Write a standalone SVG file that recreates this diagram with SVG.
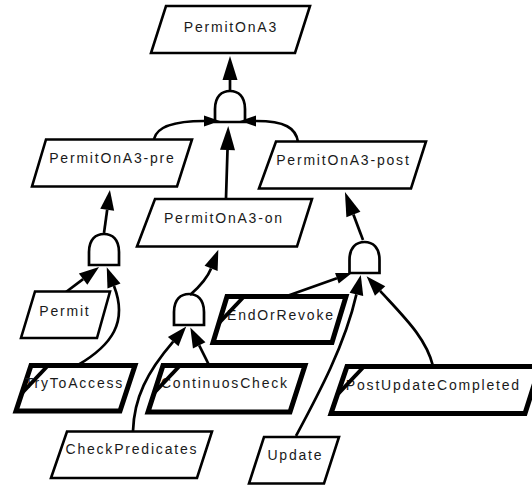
<svg xmlns="http://www.w3.org/2000/svg" width="532" height="486" viewBox="0 0 532 486">
<style>
.n{fill:#fff;stroke:#000;stroke-width:2.6;stroke-linejoin:miter}
.t{fill:#fff;stroke:#000;stroke-width:5;stroke-linejoin:miter}
.d{stroke:#000;stroke-width:4;fill:none}
.g{fill:#fff;stroke:#000;stroke-width:2.7}
.e{fill:none;stroke:#000;stroke-width:2.7}
.m{marker-end:url(#a)}
.b{marker-end:url(#ab)}
.s{marker-end:url(#as)}
text{font-family:"Liberation Sans",Arial,sans-serif;font-size:14px;letter-spacing:1.8px;text-anchor:middle;fill:#1a1a1a}
</style>
<defs>
<marker id="a" markerUnits="userSpaceOnUse" markerWidth="20" markerHeight="14" refX="0" refY="7" orient="auto" overflow="visible"><path d="M0,0 L20,7 L0,14 Z" fill="#000"/></marker>
<marker id="ab" markerUnits="userSpaceOnUse" markerWidth="24" markerHeight="15" refX="0" refY="7.5" orient="auto" overflow="visible"><path d="M0,0 L24,7.5 L0,15 Z" fill="#000"/></marker>
<marker id="as" markerUnits="userSpaceOnUse" markerWidth="16" markerHeight="11" refX="0" refY="5.5" orient="auto" overflow="visible"><path d="M0,0 L16,5.5 L0,11 Z" fill="#000"/></marker>
<path id="gate" d="M-15,0 L-15,-13 C-15,-26 -8,-31 0,-31 C8,-31 15,-26 15,-13 L15,0 Z"/>
</defs>
<g id="gates">
<use id="gate-top" href="#gate" class="g" transform="translate(230,122)"/>
<use id="gate-pre" href="#gate" class="g" transform="translate(104,265)"/>
<use id="gate-on" href="#gate" class="g" transform="translate(189,325)"/>
<use id="gate-post" href="#gate" class="g" transform="translate(364.5,273)"/>
</g>
<g id="connectors">
<path class="e b" d="M230,91 L230,80"/>
<path class="e s" d="M154,139 C157,126 175,121 204,121"/>
<path class="e s" d="M298,142 C296,128 285,121 256,121"/>
<path class="e b" d="M226,198 L227.5,150"/>
<path class="e m" d="M104,233 L107.2,209.8"/>
<path class="e m" d="M66,292 L83.1,279.1"/>
<path class="e m" d="M78,365 C112,345 128,322 114,286"/>
<path class="e m" d="M190,295 C199,287 207,279 211.1,268.4"/>
<path class="e m" d="M133,431 C134,398 147,372 173.2,341.6"/>
<path class="e m" d="M209,365 L199.2,345.3"/>
<path class="e b" d="M363,240 L353.4,214.5"/>
<path class="e s" d="M287,296 L336.9,278.3"/>
<path class="e m" d="M296,436 C318,395 345,345 356.4,294.4"/>
<path class="e m" d="M433,366 C426,338 405,318 380.1,290.9"/>
</g>
<g id="PermitOnA3">
<polygon class="n" points="166,6 310,6 295,53 151,53"/>
<text x="230.9" y="31.5">PermitOnA3</text>
</g>
<g id="PermitOnA3-pre">
<polygon class="n" points="46,139.5 192,139.5 177,186.5 32,186.5"/>
<text x="112.4" y="163">PermitOnA3-pre</text>
</g>
<g id="PermitOnA3-on">
<polygon class="n" points="155,199 312,199 297,246.5 137,246.5"/>
<text x="223.9" y="223">PermitOnA3-on</text>
</g>
<g id="PermitOnA3-post">
<polygon class="n" points="276,141.5 426,141.5 411,188.5 259,188.5"/>
<text x="343.4" y="165">PermitOnA3-post</text>
</g>
<g id="Permit">
<polygon class="n" points="35,291.5 110,291.5 97,338 21,338"/>
<text x="64.9" y="316">Permit</text>
</g>
<g id="TryToAccess">
<polygon class="t" points="31,365.5 135,365.5 120,411 16,411"/>
<text x="74.4" y="388">TryToAccess</text>
<line class="d" x1="48" y1="365.5" x2="22.5" y2="392.5"/>
</g>
<g id="ContinuosCheck">
<polygon class="t" points="163,365.5 305,365.5 290,412 148,412"/>
<text x="224.9" y="388">ContinuosCheck</text>
<line class="d" x1="180" y1="365.5" x2="154.5" y2="392.5"/>
</g>
<g id="EndOrRevoke">
<polygon class="t" points="227,296.5 346,296.5 332,342.5 213,342.5"/>
<text x="280.9" y="320">EndOrRevoke</text>
<line class="d" x1="244" y1="296.5" x2="218.5" y2="323.5"/>
</g>
<g id="PostUpdateCompleted">
<polygon class="t" points="347,366.5 540,366.5 525,413.5 331,413.5"/>
<text x="433.4" y="390">PostUpdateCompleted</text>
<line class="d" x1="364" y1="366.5" x2="338.5" y2="393.5"/>
</g>
<g id="CheckPredicates">
<polygon class="n" points="67,431.5 212,431.5 197,478 51,478"/>
<text x="131.9" y="454">CheckPredicates</text>
</g>
<g id="Update">
<polygon class="n" points="264,437 339,437 324,483.5 249,483.5"/>
<text x="295.4" y="460">Update</text>
</g>
</svg>
